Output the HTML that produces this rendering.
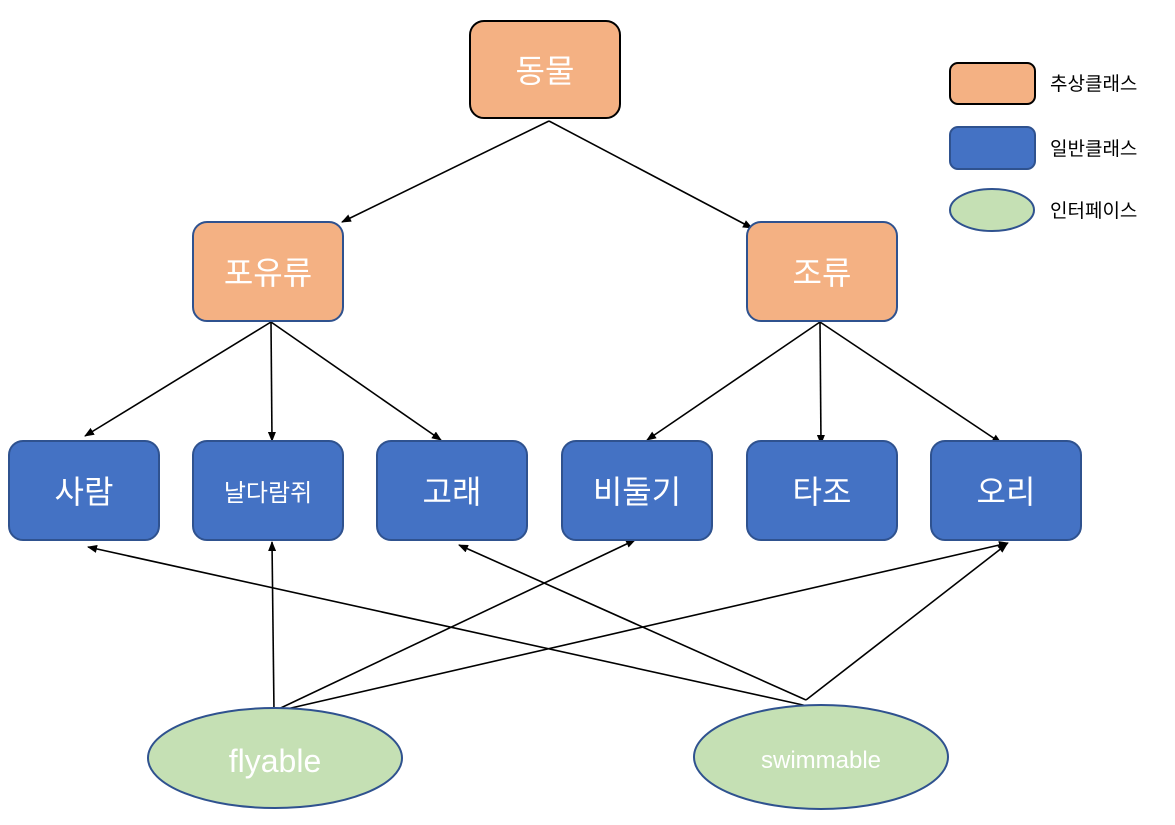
<!DOCTYPE html>
<html><head><meta charset="utf-8"><style>
body{margin:0;background:#fff;}
svg{display:block;font-family:"Liberation Sans","Noto Sans CJK KR",sans-serif;}
</style></head><body>
<svg width="1175" height="825" viewBox="0 0 1175 825" xmlns="http://www.w3.org/2000/svg">
<defs><marker id="a" markerWidth="10" markerHeight="8" refX="9" refY="4" orient="auto" markerUnits="userSpaceOnUse"><path d="M0,0 L10,4 L0,8 z" fill="#000"/></marker></defs>
<g stroke="#000" stroke-width="1.6" fill="none" marker-end="url(#a)">
<line x1="549" y1="121" x2="342" y2="222"/>
<line x1="549" y1="121" x2="752" y2="228"/>
<line x1="271" y1="322" x2="85" y2="436"/>
<line x1="271" y1="322" x2="272" y2="441"/>
<line x1="271" y1="322" x2="441" y2="440"/>
<line x1="820" y1="322" x2="647" y2="440"/>
<line x1="820" y1="322" x2="821" y2="444"/>
<line x1="820" y1="322" x2="1001" y2="443"/>
<line x1="274" y1="712" x2="272" y2="542"/>
<line x1="268" y1="714" x2="635" y2="540"/>
<line x1="265" y1="714" x2="1008" y2="543"/>
<line x1="806" y1="700" x2="1007" y2="544"/>
<line x1="806" y1="700" x2="459" y2="545"/>
<line x1="812" y1="707" x2="88" y2="547"/>
</g>
<g stroke-width="2">
<rect x="470" y="21" width="150" height="97" rx="14" fill="#f4b183" stroke="#000"/>
<rect x="193" y="222" width="150" height="99" rx="14" fill="#f4b183" stroke="#2f528f"/>
<rect x="747" y="222" width="150" height="99" rx="14" fill="#f4b183" stroke="#2f528f"/>
<g fill="#4472c4" stroke="#2f528f">
<rect x="9" y="441" width="150" height="99" rx="14"/>
<rect x="193" y="441" width="150" height="99" rx="14"/>
<rect x="377" y="441" width="150" height="99" rx="14"/>
<rect x="562" y="441" width="150" height="99" rx="14"/>
<rect x="747" y="441" width="150" height="99" rx="14"/>
<rect x="931" y="441" width="150" height="99" rx="14"/>
</g>
<ellipse cx="275" cy="758" rx="127" ry="50" fill="#c5e0b4" stroke="#2f528f"/>
<ellipse cx="821" cy="757" rx="127" ry="52" fill="#c5e0b4" stroke="#2f528f"/>
<rect x="950" y="63" width="85" height="41" rx="8" fill="#f4b183" stroke="#000"/>
<rect x="950" y="127" width="85" height="42" rx="8" fill="#4472c4" stroke="#2f528f"/>
<ellipse cx="992" cy="210" rx="42" ry="21" fill="#c5e0b4" stroke="#2f528f"/>
</g>
<g fill="#fff" text-anchor="middle" font-size="32">
<text x="545" y="82">동물</text>
<text x="268" y="284">포유류</text>
<text x="822" y="284">조류</text>
<text x="84" y="503">사람</text>
<text x="268" y="501" font-size="24">날다람쥐</text>
<text x="452" y="503">고래</text>
<text x="637" y="503">비둘기</text>
<text x="822" y="503">타조</text>
<text x="1006" y="503">오리</text>
<text x="275" y="772">flyable</text>
<text x="821" y="768" font-size="24">swimmable</text>
</g>
<g font-size="19" fill="#000">
<text x="1050" y="90">추상클래스</text>
<text x="1050" y="155">일반클래스</text>
<text x="1050" y="217">인터페이스</text>
</g>
</svg>
</body></html>
